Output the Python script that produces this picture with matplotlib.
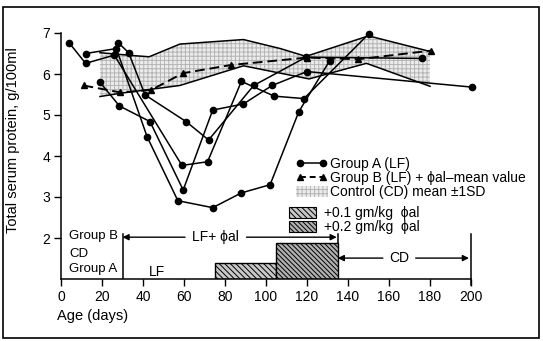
import matplotlib
matplotlib.use('Agg')
import matplotlib.pyplot as plt
from matplotlib.lines import Line2D
from matplotlib.patches import Patch, Rectangle

plt.rcParams['font.family'] = ['Liberation Sans', 'DejaVu Sans']
plt.rcParams['hatch.linewidth'] = 0.7

# group A (LF) - single animals, age in days / total serum protein g per 100ml
a1_day = [4, 12, 26, 59, 71.5, 88, 104, 118.5, 150]
a1_val = [6.76, 6.26, 6.46, 3.77, 3.86, 5.82, 5.46, 5.40, 6.97]
a2_day = [28, 33, 41, 61, 72, 94, 119.5, 176]
a2_val = [6.76, 6.52, 5.49, 4.84, 4.39, 5.72, 6.41, 6.38]
a3_day = [12, 27, 42, 57, 74, 88, 102, 116, 131]
a3_val = [6.50, 6.62, 4.47, 2.91, 2.74, 3.10, 3.30, 5.08, 6.32]
a4_day = [19, 28.5, 43.4, 59.6, 74, 89, 103, 120, 200.5]
a4_val = [5.80, 5.22, 4.84, 3.17, 5.12, 5.27, 5.72, 6.06, 5.68]
group_a = [(a1_day, a1_val), (a2_day, a2_val), (a3_day, a3_val), (a4_day, a4_val)]

# group B (LF) + phenobarbital, mean value
b_day = [11, 29, 44, 59.5, 83, 120, 145, 180.5]
b_val = [5.72, 5.55, 5.61, 6.02, 6.22, 6.40, 6.36, 6.57]

# control (CD) mean +- 1SD band
up_day = [19, 35, 43, 58, 89, 107, 119.5, 150, 180]
up_val = [6.52, 6.45, 6.42, 6.73, 6.84, 6.62, 6.43, 6.93, 6.55]
low_day = [19, 29, 58, 89, 121, 149, 180]
low_val = [5.45, 5.53, 5.72, 6.20, 5.88, 6.26, 5.70]

# phenobarbital dose periods
dose_start = [75, 105]
dose_end = [105, 135]
dose_top = [1.40, 1.87]
dose_labels = ['+0.1 gm/kg  \u03d5al', '+0.2 gm/kg  \u03d5al']

fig = plt.figure(figsize=(5.43, 3.41), dpi=100)
ax = fig.add_axes([61/543, 1-279/341, 410/543, 246/341])

# frame round the whole figure
fig.patches.append(Rectangle((3/543, 3/341), 536/543, 331/341, transform=fig.transFigure,
                             fill=False, ec='black', lw=1.2))

# control band
ax.fill(up_day + low_day[::-1], up_val + low_val[::-1], facecolor='#ececec',
        edgecolor='#b4b4b4', hatch='++++', lw=0, zorder=1)
ax.plot(up_day, up_val, color='black', lw=1.1, zorder=2)
ax.plot(low_day, low_val, color='black', lw=1.1, zorder=2)

for d, v in group_a:
    ax.plot(d, v, '-o', color='black', lw=1.1, ms=4.5, zorder=3, clip_on=False)

ax.plot(b_day, b_val, '--^', color='black', lw=1.4, ms=5, dashes=(5, 2.5), zorder=4)

# dose bars
hatches = ['\\\\\\\\\\\\', '\\\\\\\\\\\\\\']
faces = ['#c8c8c8', '#b0b0b0']
for s, e, t, h, fc in zip(dose_start, dose_end, dose_top, hatches, faces):
    ax.bar(s, t - 1, width=e - s, bottom=1, align='edge', facecolor=fc,
           edgecolor='black', hatch=h, lw=1.0, zorder=2)

# diet periods under the curves
ax.plot([30, 30], [1, 2.1], color='black', lw=1.1)
ax.plot([135, 135], [1.87, 2.1], color='black', lw=1.1)
ax.plot([200, 200], [0.85, 2.1], color='black', lw=1.1, clip_on=False)
ax.text(4.0, 2.06, 'Group B', fontsize=9.5, va='center')
ax.text(4.0, 1.60, 'CD', fontsize=9.5, va='center')
ax.text(4.0, 1.24, 'Group A', fontsize=9.5, va='center')
ax.text(47, 1.18, 'LF', fontsize=10, ha='center', va='center')

arrow = dict(arrowstyle='-|>', color='black', lw=1.0, mutation_scale=9, shrinkA=0, shrinkB=0)
ax.annotate('', xy=(30, 2.02), xytext=(60.5, 2.02), arrowprops=arrow)
ax.text(75.5, 2.02, 'LF+ \u03d5al', fontsize=10, ha='center', va='center')
ax.annotate('', xy=(134.5, 2.02), xytext=(90.5, 2.02), arrowprops=arrow)
ax.annotate('', xy=(135, 1.51), xytext=(157, 1.51), arrowprops=arrow)
ax.text(165, 1.51, 'CD', fontsize=10, ha='center', va='center')
ax.annotate('', xy=(199, 1.51), xytext=(173, 1.51), arrowprops=arrow)

ax.set_xlim(0, 200)
ax.set_ylim(1, 7)
ax.set_xticks(range(0, 201, 20))
ax.set_yticks(range(2, 8))
ax.tick_params(direction='out', length=5, width=1, labelsize=10, pad=3)
for s in ['top', 'right']:
    ax.spines[s].set_visible(False)
ax.spines['left'].set_linewidth(1.1)
ax.spines['bottom'].set_linewidth(1.1)

ax.set_ylabel('Total serum protein, g/100ml', fontsize=10.5)
ax.yaxis.set_label_coords(-0.1, 0.565)
ax.text(-0.01, -0.15, 'Age (days)', transform=ax.transAxes, fontsize=10.5,
        ha='left', va='center')

h1 = [Line2D([], [], color='black', marker='o', ms=4.5, lw=1.1),
      Line2D([], [], color='black', marker='^', ms=5, lw=1.4, ls='--', dashes=(3, 2)),
      Patch(facecolor='#ececec', edgecolor='#b4b4b4', hatch='++++', lw=0)]
lab1 = ['Group A (LF)', 'Group B (LF) + \u03d5al\u2013mean value', 'Control (CD) mean \u00b11SD']
leg1 = ax.legend(h1, lab1, loc='upper left', bbox_to_anchor=(0.545, 0.54), frameon=False,
                 fontsize=10, handlelength=2.3, handletextpad=0.15, labelspacing=0.0,
                 borderpad=0.3, numpoints=2, handleheight=0.8)
ax.add_artist(leg1)
h2 = [Patch(facecolor=fc, edgecolor='black', hatch=h, lw=0.8) for h, fc in zip(hatches, faces)]
ax.legend(h2, dose_labels, loc='upper left', bbox_to_anchor=(0.53, 0.34), frameon=False,
          fontsize=10, handlelength=1.9, handletextpad=0.6, labelspacing=0.0,
          borderpad=0.3, handleheight=0.8)

fig.savefig('out.png', dpi=100)
